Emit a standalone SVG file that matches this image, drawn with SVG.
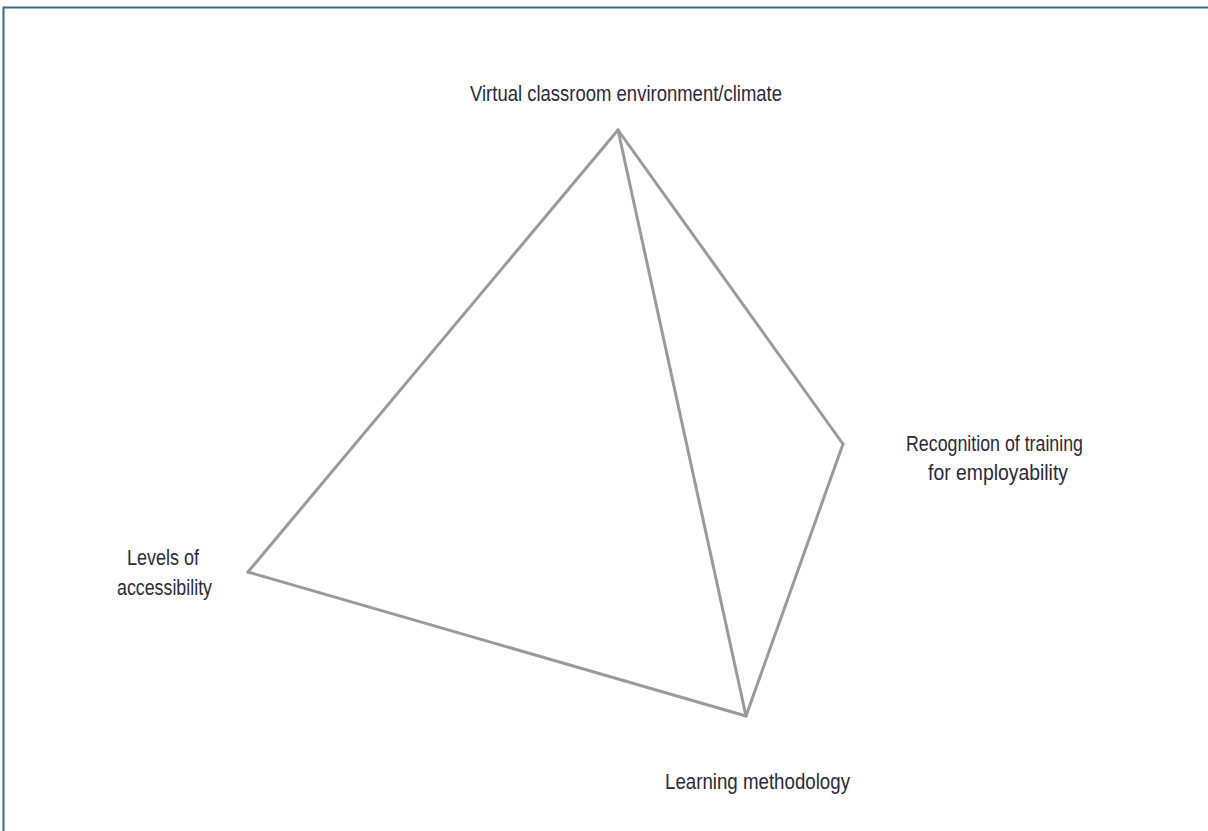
<svg xmlns="http://www.w3.org/2000/svg" width="1208" height="831" viewBox="0 0 1208 831">
<style>
.lbl{font-family:"Liberation Sans Narrow","Liberation Sans",Arial,sans-serif;font-size:22px;fill:#2b2a3a;font-stretch:condensed}
.edge{stroke:#9a9a9a;stroke-width:3;fill:none;stroke-linecap:round;stroke-linejoin:round}
</style>
<rect x="0" y="0" width="1208" height="831" fill="#ffffff"/>
<path d="M3.5,831 V7.5 H1208" fill="none" stroke="#3a6790" stroke-width="2"/>
<g id="connectors">
<line class="edge" x1="618" y1="130" x2="248" y2="572"/>
<line class="edge" x1="618" y1="130" x2="843" y2="444"/>
<line class="edge" x1="618" y1="130" x2="746" y2="716"/>
<line class="edge" x1="248" y1="572" x2="746" y2="716"/>
<line class="edge" x1="843" y1="444" x2="746" y2="716"/>
</g>
<g id="node-top"><text class="lbl" x="470" y="101" textLength="312" lengthAdjust="spacingAndGlyphs">Virtual classroom environment/climate</text></g>
<g id="node-right"><text class="lbl" x="906" y="451" textLength="177" lengthAdjust="spacingAndGlyphs">Recognition of training</text><text class="lbl" x="928" y="480" textLength="140" lengthAdjust="spacingAndGlyphs">for employability</text></g>
<g id="node-left"><text class="lbl" x="127" y="565" textLength="72" lengthAdjust="spacingAndGlyphs">Levels of</text><text class="lbl" x="117" y="595" textLength="95" lengthAdjust="spacingAndGlyphs">accessibility</text></g>
<g id="node-bottom"><text class="lbl" x="665" y="789" textLength="185" lengthAdjust="spacingAndGlyphs">Learning methodology</text></g>
</svg>
